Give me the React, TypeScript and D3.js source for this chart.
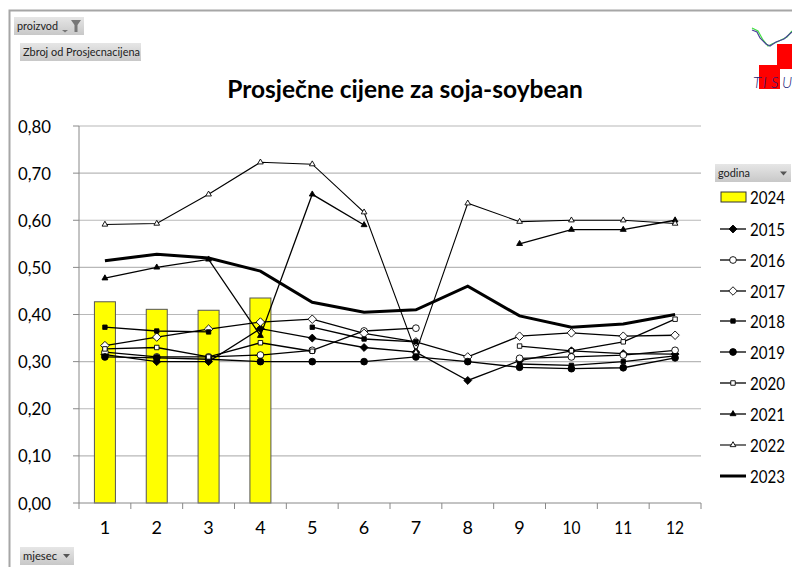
import React from "react";
import * as d3 from "d3";

const months = [1, 2, 3, 4, 5, 6, 7, 8, 9, 10, 11, 12];
const yTicks = [0, 0.1, 0.2, 0.3, 0.4, 0.5, 0.6, 0.7, 0.8];
type V = number | null;
const y2024: V[] = [0.427, 0.411, 0.409, 0.435];
const y2015: V[] = [0.315, 0.3, 0.3, 0.37, 0.35, 0.33, 0.32, 0.26, 0.302, 0.323, 0.317, 0.316];
const y2016: V[] = [0.32, 0.31, 0.31, 0.314, 0.324, 0.365, 0.371, null, 0.307, 0.31, 0.314, 0.324];
const y2017: V[] = [0.334, 0.352, 0.369, 0.384, 0.39, 0.36, 0.342, 0.31, 0.354, 0.361, 0.354, 0.356];
const y2018: V[] = [0.373, 0.365, 0.363, null, 0.373, 0.348, 0.342, null, 0.295, 0.292, 0.3, 0.312];
const y2019: V[] = [0.31, 0.308, 0.305, 0.3, 0.3, 0.3, 0.31, 0.3, 0.288, 0.285, 0.287, 0.308];
const y2020: V[] = [0.327, 0.33, 0.31, 0.34, 0.322, null, null, null, 0.333, 0.323, 0.342, 0.39];
const y2021: V[] = [0.477, 0.5, 0.517, 0.355, 0.655, 0.59, null, null, 0.55, 0.58, 0.58, 0.6];
const y2022: V[] = [0.591, 0.593, 0.655, 0.723, 0.719, 0.617, 0.32, 0.636, 0.597, 0.6, 0.6, 0.593];
const y2023: V[] = [0.514, 0.528, 0.52, 0.492, 0.426, 0.405, 0.41, 0.46, 0.397, 0.373, 0.38, 0.4];

type Mk = "diamond" | "circle" | "square" | "triangle" | "none";
const lineSeries: { name: string; values: V[]; marker: Mk; fill: string; size: number; width: number }[] = [
  { name: "2015", values: y2015, marker: "diamond", fill: "#000", size: 40, width: 1.3 },
  { name: "2016", values: y2016, marker: "circle", fill: "#fff", size: 36, width: 1.3 },
  { name: "2017", values: y2017, marker: "diamond", fill: "#fff", size: 46, width: 1.3 },
  { name: "2018", values: y2018, marker: "square", fill: "#000", size: 19, width: 1.3 },
  { name: "2019", values: y2019, marker: "circle", fill: "#000", size: 36, width: 1.3 },
  { name: "2020", values: y2020, marker: "square", fill: "#fff", size: 20, width: 1.3 },
  { name: "2021", values: y2021, marker: "triangle", fill: "#000", size: 15, width: 1.3 },
  { name: "2022", values: y2022, marker: "triangle", fill: "#fff", size: 14, width: 1.1 },
  { name: "2023", values: y2023, marker: "none", fill: "#000", size: 0, width: 3 },
];
const legendRows = [229, 260, 291, 321, 352, 383, 414, 445, 476];

const FONT = "Lato, Carlito, 'Open Sans', sans-serif";

const symbolOf = (m: Mk, size: number) => {
  const t = m === "diamond" ? d3.symbolDiamond2 : m === "circle" ? d3.symbolCircle : m === "square" ? d3.symbolSquare : d3.symbolTriangle;
  return d3.symbol(t, size)() as string;
};

function Btn({ x, y, w, h, label, len }: { x: number; y: number; w: number; h: number; label: string; len: number }) {
  return (
    <g>
      <rect x={x} y={y} width={w} height={h} fill="url(#btn)" />
      <text x={x + 3} y={y + h / 2 + 4} fontSize={12} fill="#222" fontFamily={FONT} textLength={len} lengthAdjust="spacingAndGlyphs">{label}</text>
    </g>
  );
}

export default function App() {
  const x = d3.scaleBand<number>().domain(months).range([79, 701]);
  const y = d3.scaleLinear().domain([0, 0.8]).range([503, 126]);
  const cx = (m: number) => (x(m) as number) + x.bandwidth() / 2;
  const fmt = (v: number) => v.toFixed(2).replace(".", ",");
  const line = d3
    .line<V>()
    .defined((d) => d !== null)
    .x((_, i) => cx(months[i]))
    .y((d) => y(d as number));

  return (
    <svg width={792} height={567} style={{ position: "absolute", left: 0, top: 0, background: "#fff" }}>
      <defs>
        <linearGradient id="btn" x1="0" y1="0" x2="0" y2="1">
          <stop offset="0" stopColor="#e6e6e6" />
          <stop offset="1" stopColor="#c8c8c8" />
        </linearGradient>
      </defs>
      <path d="M792,10.5H9.5V567" fill="none" stroke="#a6a6a6" strokeWidth={2} />

      {/* logo */}
      <g>
        <rect x={777} y={44} width={15} height={25} fill="#f00" />
        <rect x={759} y={65} width={21} height={24} fill="#f00" />
        <path d="M752,28L758,31L763,40L768,46L772,44L779,41L787,37L792,31" fill="none" stroke="#3fe03f" strokeWidth={1.2} />
        <path d="M752,30L757,32L760,38L766,44L770,46L776,42L784,39L792,32" fill="none" stroke="#4a3f9a" strokeWidth={1.2} />
        <text x="753 763 771 782" y={88} fontSize={15} fontStyle="italic" fontWeight={300} fill="#1a1a7a" fontFamily={FONT}>TISU</text>
      </g>

      <Btn x={14} y={17} w={70} h={18} label="proizvod" len={41} />
      <path d="M62,30h6l-3,2.5zM71,20h10l-3.5,5v7h-3v-7z" fill="#777" />
      <Btn x={20} y={43} w={121} h={18} label="Zbroj od Prosjecnacijena" len={117} />

      <text x={405} y={98} textAnchor="middle" fontSize={24.5} fontWeight={700} fill="#000" fontFamily={FONT}>
        Prosječne cijene za soja-soybean
      </text>

      {yTicks.filter((t) => t > 0).map((t) => (
        <line key={t} x1={79} x2={701} y1={y(t)} y2={y(t)} stroke="#b8b8b8" strokeWidth={1.2} />
      ))}
      {y2024.map((v, i) => (
        <rect key={i} x={cx(months[i]) - 10.5} y={y(v as number)} width={21} height={503 - y(v as number)} fill="#ffff00" stroke="#555" strokeWidth={1} />
      ))}

      <line x1={79} x2={79} y1={126} y2={503} stroke="#888" />
      <line x1={79} x2={701} y1={503} y2={503} stroke="#888" />
      {yTicks.map((t) => (
        <g key={t}>
          <line x1={73} x2={79} y1={y(t)} y2={y(t)} stroke="#888" />
          <text x={18} y={y(t) + 6.5} fontSize={18} fill="#000" fontFamily={FONT} textLength={33} lengthAdjust="spacingAndGlyphs">{fmt(t)}</text>
        </g>
      ))}
      {months.map((m) => (
        <g key={m}>
          <line x1={x(m)} x2={x(m)} y1={503} y2={509} stroke="#888" />
          {m >= 10 ? (
            <text x={cx(m) - 9} y={534} fontSize={18} fill="#000" fontFamily={FONT} textLength={18} lengthAdjust="spacingAndGlyphs">{m}</text>
          ) : (
            <text x={cx(m)} y={534} textAnchor="middle" fontSize={18} fill="#000" fontFamily={FONT}>{m}</text>
          )}
        </g>
      ))}
      <line x1={701} x2={701} y1={503} y2={509} stroke="#888" />

      {lineSeries.map((s) => (
        <g key={s.name}>
          <path d={line(s.values) as string} fill="none" stroke="#000" strokeWidth={s.width} />
          {s.marker !== "none" &&
            s.values.map((v, i) =>
              v === null ? null : (
                <path
                  key={i}
                  d={symbolOf(s.marker, s.size)}
                  transform={`translate(${cx(months[i])},${y(v)})`}
                  fill={s.fill}
                  stroke="#000"
                  strokeWidth={0.9}
                />
              )
            )}
        </g>
      ))}

      <Btn x={715} y={164} w={76} h={18} label="godina" len={32} />
      <path d="M780,171.5h7l-3.5,4z" fill="#555" />
      <rect x={721} y={192} width={25} height={10} fill="#ffff00" stroke="#333" />
      <text x={750} y={204} fontSize={18} fill="#000" fontFamily={FONT} textLength={35} lengthAdjust="spacingAndGlyphs">2024</text>
      {lineSeries.map((s, i) => (
        <g key={s.name}>
          <line x1={720} x2={746} y1={legendRows[i]} y2={legendRows[i]} stroke="#000" strokeWidth={s.width} />
          {s.marker !== "none" && (
            <path d={symbolOf(s.marker, s.size)} transform={`translate(733,${legendRows[i]})`} fill={s.fill} stroke="#000" strokeWidth={0.9} />
          )}
          <text x={750} y={legendRows[i] + 7} fontSize={18} fill="#000" fontFamily={FONT} textLength={35} lengthAdjust="spacingAndGlyphs">{s.name}</text>
        </g>
      ))}

      <Btn x={20} y={547} w={54} h={18} label="mjesec" len={34} />
      <path d="M63,554h7l-3.5,4z" fill="#555" />
    </svg>
  );
}
